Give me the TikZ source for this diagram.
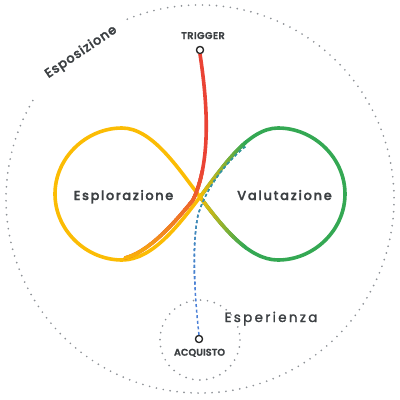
\documentclass[tikz,border=0pt]{standalone}
\usepackage{fontspec}
\IfFontExistsTF{Poppins-Medium.ttf}
  {\newfontfamily\labfont{Poppins-Medium.ttf}[FakeBold=1.6]}
  {\IfFontExistsTF{Poppins Medium}{\newfontfamily\labfont{Poppins Medium}[FakeBold=1.6]}{\newfontfamily\labfont{Poppins}[FakeBold=2.4]}}
\IfFontExistsTF{Poppins-SemiBold.ttf}
  {\newfontfamily\capfont{Poppins-SemiBold.ttf}[FakeBold=0.8]}
  {\newfontfamily\capfont{Poppins}[FakeBold=2.2]}
\newfontfamily\regfont{Poppins}[FakeBold=1.6]
\definecolor{yel}{HTML}{FBBC04}
\definecolor{grn}{HTML}{34A853}
\definecolor{rd}{HTML}{EA4335}
\definecolor{org}{HTML}{F28B1E}
\definecolor{blu}{HTML}{4A7FD6}
\definecolor{tea}{HTML}{2E9E86}
\definecolor{dotg}{HTML}{8E9297}
\definecolor{txt}{HTML}{3C4043}
\tikzset{
  loopline/.style={line width=3.6pt, line cap=round, line join=round},
  dotline/.style={dotg, line width=1.9pt, line cap=round, dash pattern=on 0pt off 7pt},
  hub/.style={circle, draw=black!85, fill=white, line width=1.2pt, inner sep=0pt, minimum size=7pt},
  dashline/.style={line width=1.5pt, dash pattern=on 3pt off 2.6pt},
  bigtext/.style={text=txt, anchor=base, inner sep=0pt},
}
\begin{document}
\begin{tikzpicture}[x=1pt,y=-1pt]
\useasboundingbox (0,0) rectangle (400,400);
% dotted circles
\draw[dotline] (200,199) ++(248:194) arc[start angle=248, end angle=572, radius=194];
\draw[dotline] (200,340) circle[radius=40];
% nodes
\node[hub] (trig) at (200,50) {};
\node[hub] (acq) at (199,339) {};
\coordinate (redend) at (125,258);
\coordinate (bluend) at (246,146);
\def\leftlobe{(200,197) .. controls (178,168) and (152,128) .. (122,128)
 .. controls (86,128) and (55,158) .. (55,194)
 .. controls (55,230) and (86,260) .. (122,260)
 .. controls (152,260) and (178,226) .. (200,197)}
\def\rightlobe{(200,197) .. controls (222,168) and (248,128) .. (278,128)
 .. controls (314,128) and (345,158) .. (345,194)
 .. controls (345,230) and (314,260) .. (278,260)
 .. controls (248,260) and (222,226) .. (200,197)}
\def\redpath{(trig.south) .. controls (207,100) and (212,160) .. (193,200)
 .. controls (172,226) and (148,252) .. (redend)}
\def\bluepath{(acq.north) .. controls (194,290) and (192,245) .. (198,215)
 .. controls (206,188) and (226,162) .. (bluend)}
% loops
\draw[loopline, grn] \rightlobe;
\foreach \i in {0,...,23}{
  \pgfmathsetmacro\xa{198+2*\i}
  \pgfmathtruncatemacro\p{100-100*\i/23}
  \begin{scope}
    \clip (\xa,100) rectangle (\xa+2.2,300);
    \draw[loopline, yel!\p!grn] \rightlobe;
  \end{scope}
}
\draw[loopline, yel] \leftlobe;
% red line
\draw[loopline, rd] \redpath;
\foreach \i in {0,...,32}{
  \pgfmathsetmacro\ya{170+2*\i}
  \pgfmathtruncatemacro\p{100-100*\i/32}
  \begin{scope}
    \clip (0,\ya) rectangle (400,\ya+2.2);
    \draw[loopline, rd!\p!org] \redpath;
  \end{scope}
}
\foreach \i in {0,...,13}{
  \pgfmathsetmacro\ya{236+2*\i}
  \pgfmathtruncatemacro\p{100-100*\i/13}
  \begin{scope}
    \clip (0,\ya) rectangle (400,\ya+2.2);
    \draw[loopline, org!\p!yel] \redpath;
  \end{scope}
}
% blue dashed line
\draw[dashline, blu] \bluepath;
\foreach \i in {0,...,49}{
  \pgfmathsetmacro\ya{138+3*\i}
  \pgfmathtruncatemacro\p{100*\i/49}
  \begin{scope}
    \clip (0,\ya) rectangle (400,\ya+3.2);
    \draw[dashline, blu!\p!tea] \bluepath;
  \end{scope}
}
\node[hub] at (trig) {};
\node[hub] at (acq) {};
% texts
\node[bigtext, font=\labfont\fontsize{13}{13}\selectfont\addfontfeature{LetterSpace=12}] (esplo) at (123.5,200) {Esplorazione};
\node[bigtext, font=\labfont\fontsize{13}{13}\selectfont\addfontfeature{LetterSpace=13}] (valu) at (284.5,200) {Valutazione};
\node[bigtext, font=\regfont\fontsize{13.5}{13.5}\selectfont\addfontfeature{LetterSpace=17}] (esper) at (271,322) {Esperienza};
\node[bigtext, font=\labfont\fontsize{13}{13}\selectfont\addfontfeature{LetterSpace=6}, rotate=34] (espos) at (83,55) {Esposizione};
\node[bigtext, font=\capfont\fontsize{9.8}{9.8}\selectfont\addfontfeature{LetterSpace=4}] (trigl) at (203,39) {TRIGGER};
\node[bigtext, font=\capfont\fontsize{9.8}{9.8}\selectfont] (acql) at (199.5,355.7) {ACQUISTO};
\end{tikzpicture}
\end{document}
